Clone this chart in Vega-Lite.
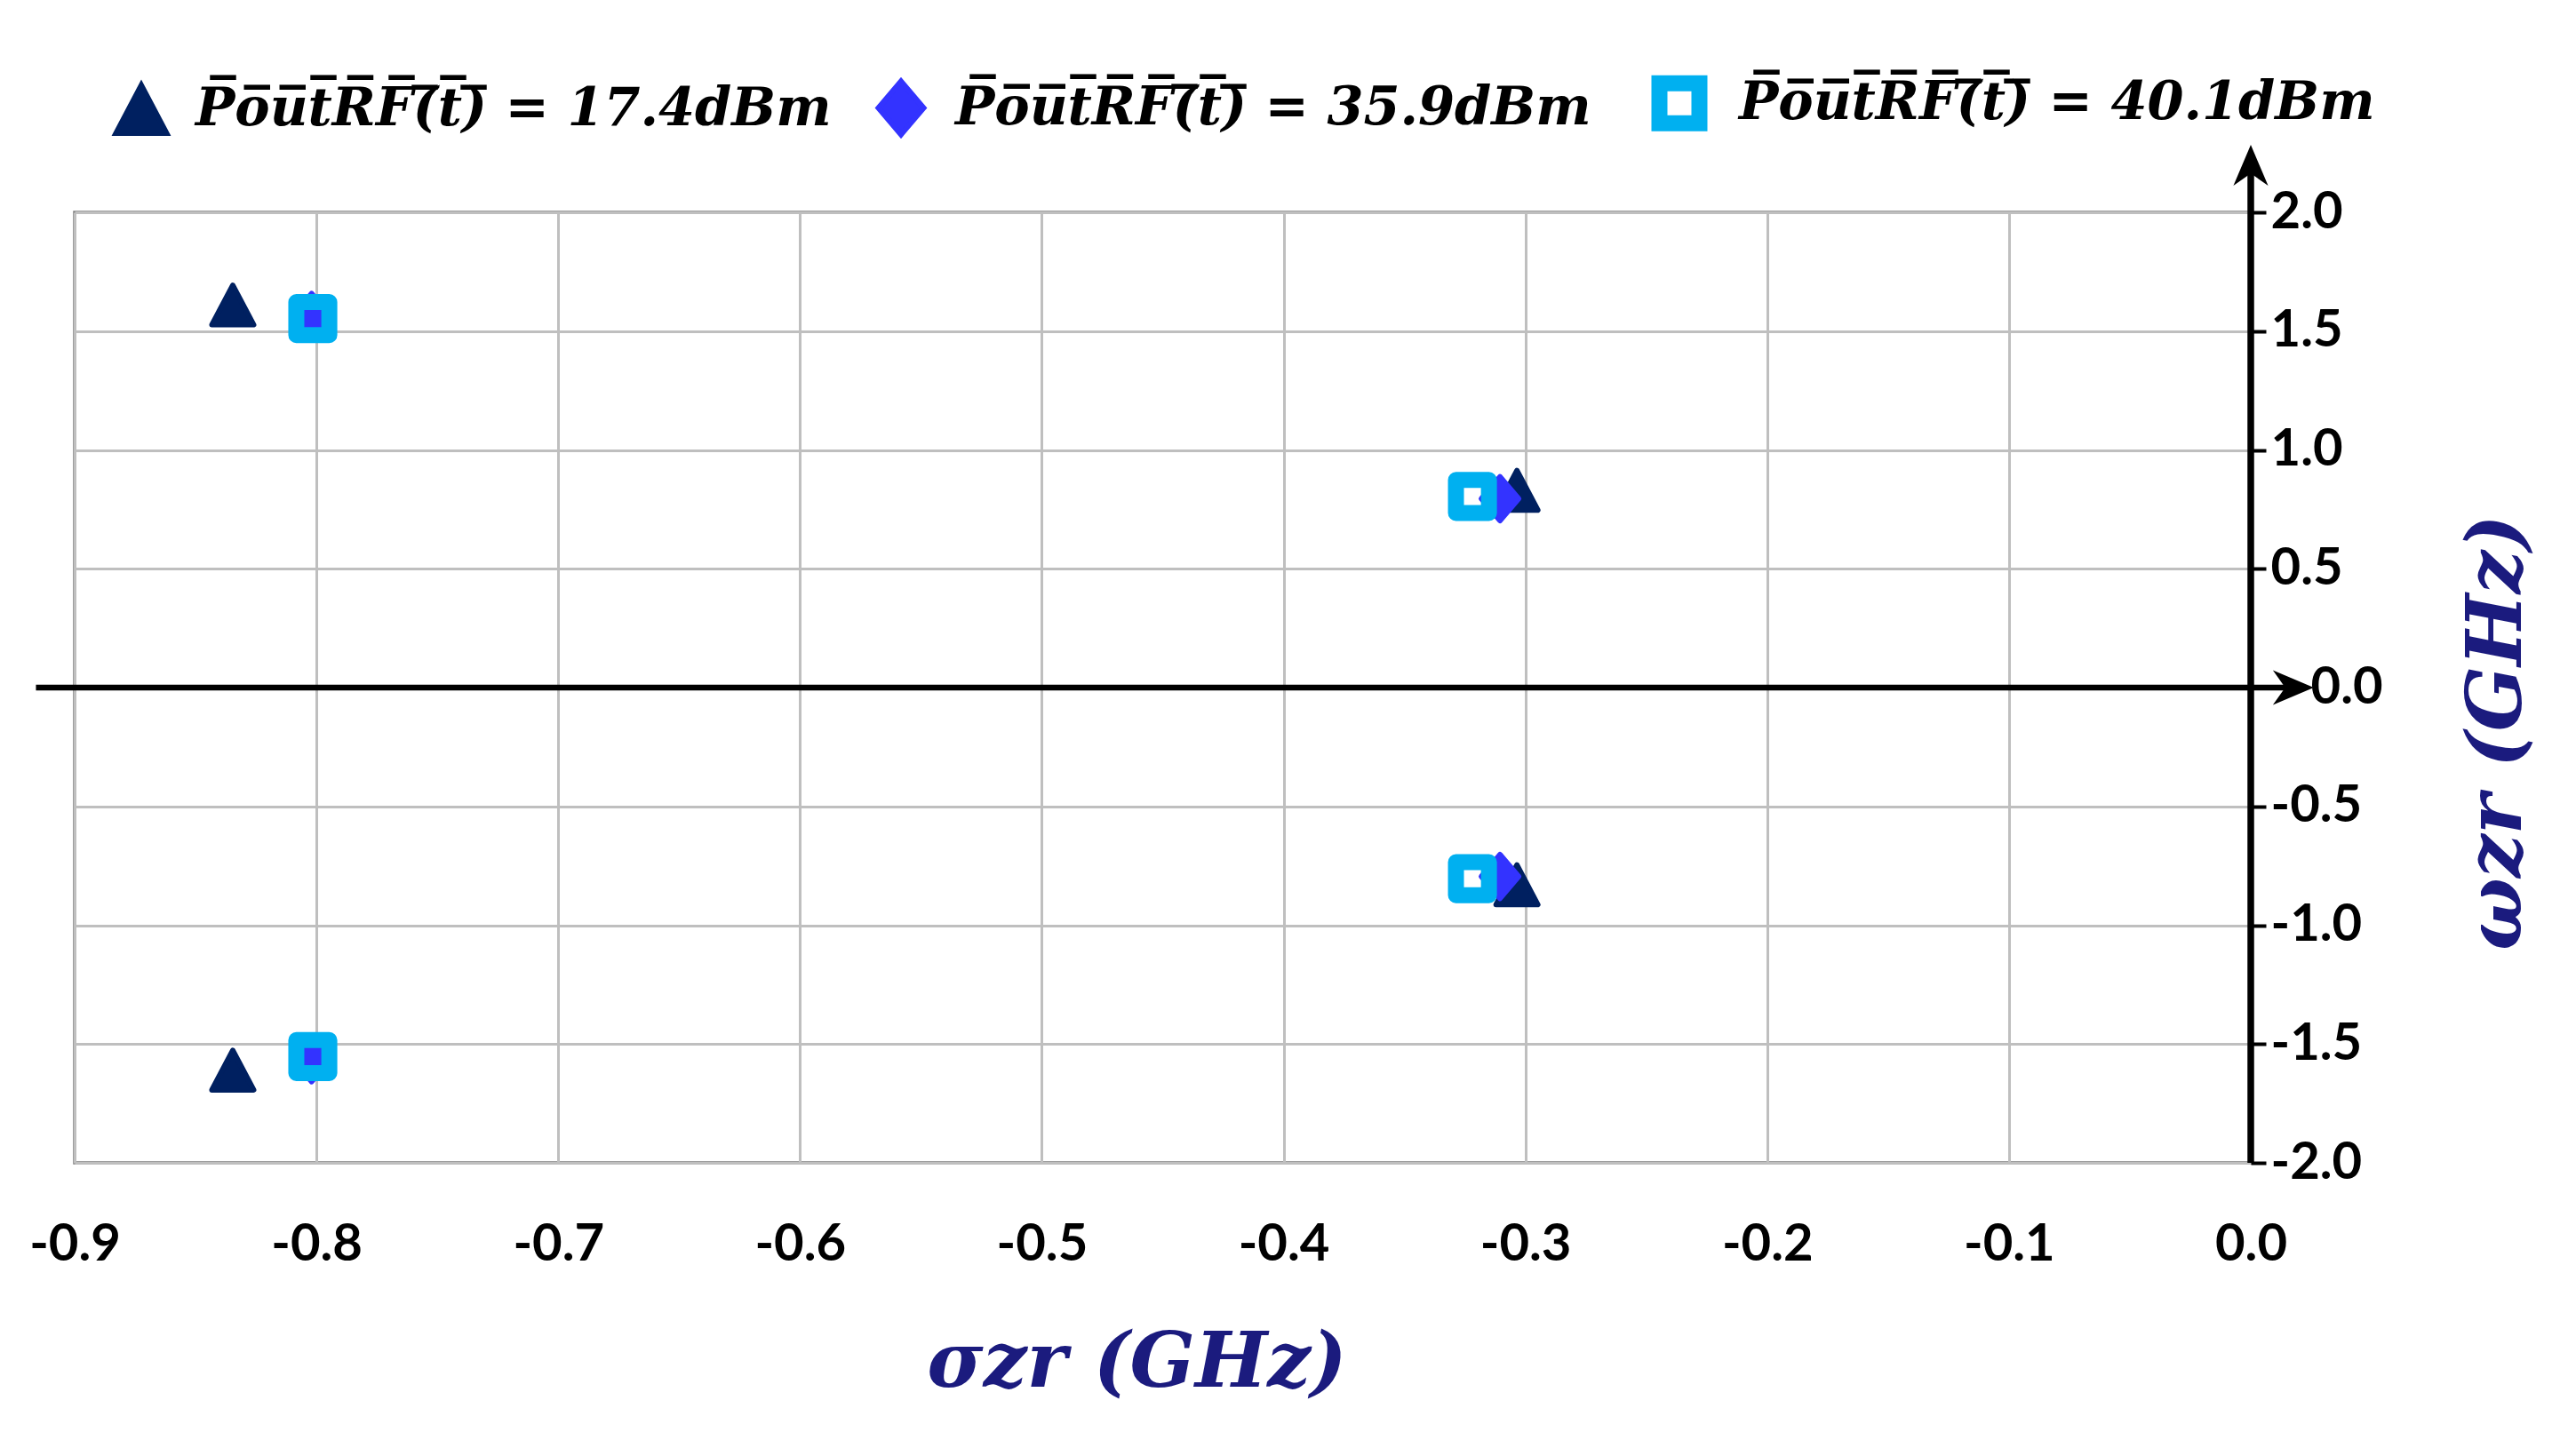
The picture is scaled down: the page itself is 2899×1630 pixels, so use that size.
{
  "$schema": "https://vega.github.io/schema/vega-lite/v6.json",
  "width": 2449,
  "height": 1070,
  "autosize": "none",
  "padding": {"left": 84, "top": 239, "right": 366, "bottom": 321},
  "background": "white",
  "config": {"view": {"stroke": "#7f7f7f", "strokeWidth": 3.5}},
  "datasets": {
    "poles": [
      {"s": "17.4", "x": -0.8346, "y": 1.61},
      {"s": "17.4", "x": -0.3035, "y": 0.83},
      {"s": "17.4", "x": -0.3035, "y": -0.83},
      {"s": "17.4", "x": -0.8346, "y": -1.61},
      {"s": "35.9", "x": -0.802, "y": 1.566},
      {"s": "35.9", "x": -0.3105, "y": 0.795},
      {"s": "35.9", "x": -0.3105, "y": -0.795},
      {"s": "35.9", "x": -0.802, "y": -1.566},
      {"s": "40.1", "x": -0.8015, "y": 1.553},
      {"s": "40.1", "x": -0.3219, "y": 0.804},
      {"s": "40.1", "x": -0.3219, "y": -0.804},
      {"s": "40.1", "x": -0.8015, "y": -1.553}
    ],
    "hline": [{"x": -0.916, "x2": 0.017, "y": 0}],
    "vline": [{"x": 0, "y": -2, "y2": 2.2}],
    "harrow": [{"x": 0.0176, "y": 0}],
    "varrow": [{"x": 0, "y": 2.198}]
  },
  "layer": [
    {
      "data": {"name": "hline"},
      "mark": {"type": "rule", "color": "black", "strokeWidth": 6.5},
      "encoding": {
        "x": {"field": "x", "type": "quantitative", "scale": {"domain": [-0.9, 0], "nice": false, "zero": false}},
        "x2": {"field": "x2"},
        "y": {"field": "y", "type": "quantitative", "scale": {"domain": [-2, 2], "nice": false, "zero": false}}
      }
    },
    {
      "data": {"name": "vline"},
      "mark": {"type": "rule", "color": "black", "strokeWidth": 7.5},
      "encoding": {
        "x": {"field": "x", "type": "quantitative"},
        "y": {"field": "y", "type": "quantitative"},
        "y2": {"field": "y2"}
      }
    },
    {
      "data": {"name": "harrow"},
      "mark": {"type": "point", "shape": "M1,0L-1,-0.85L-0.4,0L-1,0.85Z", "filled": true, "color": "black", "size": 2116, "opacity": 1, "strokeWidth": 0},
      "encoding": {
        "x": {"field": "x", "type": "quantitative"},
        "y": {"field": "y", "type": "quantitative"}
      }
    },
    {
      "data": {"name": "varrow"},
      "mark": {"type": "point", "shape": "M0,-1L-0.85,1L0,0.4L0.85,1Z", "filled": true, "color": "black", "size": 2116, "opacity": 1, "strokeWidth": 0},
      "encoding": {
        "x": {"field": "x", "type": "quantitative"},
        "y": {"field": "y", "type": "quantitative"}
      }
    },
    {
      "data": {"name": "poles"},
      "mark": {"type": "point", "filled": true, "opacity": 1, "size": 2450, "strokeJoin": "round"},
      "encoding": {
        "x": {
          "field": "x", "type": "quantitative",
          "scale": {"domain": [-0.9, 0], "nice": false, "zero": false},
          "axis": {
            "orient": "bottom",
            "values": [-0.9, -0.8, -0.7, -0.6, -0.5, -0.4, -0.3, -0.2, -0.1, 0],
            "grid": true, "gridColor": "#bfbfbf", "gridWidth": 3,
            "domain": false, "ticks": false,
            "labelFont": "Lato", "labelFontWeight": "bold", "labelFontSize": 58, "labelColor": "#000000",
            "labelPadding": 63, "labelFlush": false, "labelOverlap": false,
            "labelExpr": "replace(format(datum.value, '.1f'), '\u2212', '-')",
            "title": "σzr (GHz)",
            "titleFont": "DejaVu Serif", "titleFontStyle": "italic", "titleFontWeight": "bold",
            "titleFontSize": 86, "titleColor": "#1B1B7E", "titlePadding": 62, "titleX": 1195
          }
        },
        "y": {
          "field": "y", "type": "quantitative",
          "scale": {"domain": [-2, 2], "nice": false, "zero": false},
          "axis": {
            "orient": "right",
            "values": [-2, -1.5, -1, -0.5, 0, 0.5, 1, 1.5, 2],
            "grid": true, "gridColor": "#bfbfbf", "gridWidth": 3,
            "domain": false, "ticks": true, "tickColor": "#000000", "tickWidth": 4, "tickSize": 17,
            "labelFont": "Lato", "labelFontWeight": "bold", "labelFontSize": 58, "labelColor": "#000000",
            "labelPadding": {"condition": {"test": "datum.value == 0", "value": 50}, "value": 5},
            "labelOverlap": false, "labelFlush": false,
            "labelExpr": "replace(format(datum.value, '.1f'), '\u2212', '-')",
            "title": "ωzr (GHz)",
            "titleAngle": -90, "titleBaseline": "top",
            "titleFont": "DejaVu Serif", "titleFontStyle": "italic", "titleFontWeight": "bold",
            "titleFontSize": 86, "titleColor": "#1B1B7E", "titlePadding": 87, "titleY": 585
          }
        },
        "shape": {
          "field": "s", "type": "nominal",
          "scale": {"domain": ["17.4", "35.9", "40.1"], "range": ["M0,-0.9L0.95,0.9L-0.95,0.9Z", "M0,-1L0.85,0L0,1L-0.85,0Z", "M-0.75,-0.75L0.75,-0.75L0.75,0.75L-0.75,0.75Z"]},
          "legend": {
            "title": null, "orient": "top", "direction": "horizontal",
            "offset": 22, "padding": 42, "symbolSize": 3600,
            "labelFont": "DejaVu Serif", "labelFontStyle": "italic", "labelFontWeight": "bold",
            "labelFontSize": 59, "labelLimit": 0, "labelOffset": 28, "columnPadding": 40,
            "labelExpr": "'P\u0305o\u0305u\u0305t\u0305R\u0305F\u0305(\u0305t\u0305)\u0305 = ' + datum.label + 'dBm'",
            "encode": {
              "labels": {"update": {"fill": {"condition": [{"test": "datum.value == '17.4'", "value": "#002060"}, {"test": "datum.value == '35.9'", "value": "#3333FF"}], "value": "#00B0F0"}}},
              "symbols": {"update": {"strokeJoin": {"value": "round"}}}
            }
          }
        },
        "fill": {
          "field": "s", "type": "nominal",
          "scale": {"domain": ["17.4", "35.9", "40.1"], "range": ["#002060", "#3333FF", "transparent"]}
        },
        "stroke": {
          "field": "s", "type": "nominal",
          "scale": {"domain": ["17.4", "35.9", "40.1"], "range": ["#002060", "#3333FF", "#00B0F0"]}
        },
        "strokeWidth": {
          "field": "s", "type": "nominal",
          "scale": {"type": "ordinal", "domain": ["17.4", "35.9", "40.1"], "range": [6, 6, 18]}
        }
      }
    }
  ]
}
